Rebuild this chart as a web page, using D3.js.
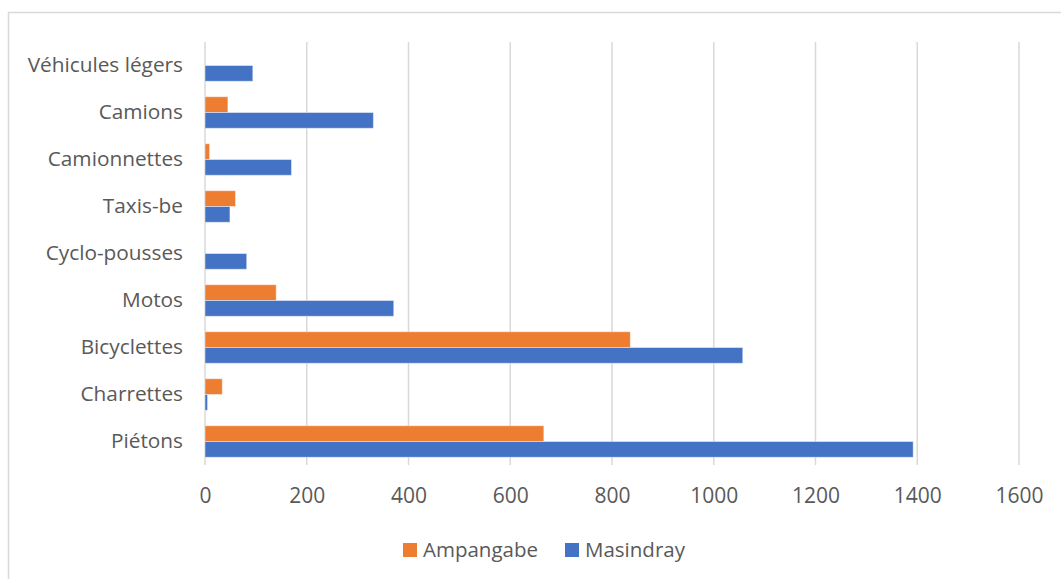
<!DOCTYPE html>
<html>
<head>
<meta charset="utf-8">
<script src="https://cdn.jsdelivr.net/npm/d3@7"></script>
<style>
  html, body { margin: 0; padding: 0; background: #fff; }
  svg { display: block; }
  text { font-family: "Open Sans", "Liberation Sans", sans-serif; fill: #595959; }
</style>
</head>
<body>
<svg id="chart" width="1061" height="579"></svg>
<script>
// Traffic counts by vehicle type at two survey sites
const categories = ["Véhicules légers", "Camions", "Camionnettes", "Taxis-be", "Cyclo-pousses", "Motos", "Bicyclettes", "Charrettes", "Piétons"];
const seriesNames = ["Ampangabe", "Masindray"];
const ampangabe = [0, 45, 9, 60, 0, 140, 836, 34, 666];
const masindray = [94, 331, 170, 49, 82, 371, 1057, 5, 1392];
const xTicks = [0, 200, 400, 600, 800, 1000, 1200, 1400, 1600];
const colors = ["#ED7D31", "#4472C4"];

const svg = d3.select("#chart");
const W = 1061, H = 579;
const plot = { left: 205, right: 1019, top: 42, bottom: 465 };

// outer chart frame
svg.append("rect")
  .attr("x", 8.5).attr("y", 12.5)
  .attr("width", W + 10).attr("height", H + 10)
  .attr("fill", "none").attr("stroke", "#D9D9D9").attr("stroke-width", 1.5);

const x = d3.scaleLinear().domain([0, 1600]).range([plot.left, plot.right]);
const y = d3.scaleBand().domain(categories).range([plot.top, plot.bottom]).paddingInner(0).paddingOuter(0);
const inner = d3.scaleBand().domain(seriesNames).range([0, y.bandwidth()]).paddingInner(0).paddingOuter(0.49);

// vertical gridlines
svg.append("g").selectAll("line").data(xTicks).join("line")
  .attr("x1", d => x(d)).attr("x2", d => x(d))
  .attr("y1", plot.top).attr("y2", plot.bottom)
  .attr("stroke", "#D9D9D9").attr("stroke-width", 1.5);

// x axis labels
const xAxis = d3.axisBottom(x).tickValues(xTicks).tickSize(0).tickPadding(0).tickFormat(d3.format("d"));
const gx = svg.append("g").attr("transform", `translate(0,${plot.bottom + 24})`).call(xAxis);
gx.select(".domain").remove();
gx.selectAll("text").attr("font-size", 21).attr("fill", "#595959")
  .attr("font-family", "'Open Sans', 'Liberation Sans', sans-serif").attr("dy", "0.66em");

// category labels
const yAxis = d3.axisLeft(y).tickSize(0).tickPadding(22);
const gy = svg.append("g").attr("transform", `translate(${plot.left},0)`).call(yAxis);
gy.select(".domain").remove();
gy.selectAll("text").attr("font-size", 20.8).attr("fill", "#595959")
  .attr("font-family", "'Open Sans', 'Liberation Sans', sans-serif");

// bars
const rows = categories.map((c, i) => ({ cat: c, values: [ampangabe[i], masindray[i]] }));
const groups = svg.append("g").selectAll("g").data(rows).join("g")
  .attr("transform", d => `translate(0,${y(d.cat)})`);
groups.selectAll("rect")
  .data(d => d.values.map((v, k) => ({ series: seriesNames[k], value: v, k })))
  .join("rect")
  .filter(d => d.value > 0)
  .attr("x", x(0))
  .attr("y", d => inner(d.series))
  .attr("width", d => x(d.value) - x(0))
  .attr("height", inner.bandwidth())
  .attr("fill", d => colors[d.k])
  .attr("stroke", "rgba(255,255,255,0.45)")
  .attr("stroke-width", 1);

// legend
const legendItems = [
  { name: seriesNames[0], color: colors[0], x: 403 },
  { name: seriesNames[1], color: colors[1], x: 565 }
];
const lg = svg.append("g");
legendItems.forEach(it => {
  lg.append("rect").attr("x", it.x).attr("y", 543).attr("width", 14).attr("height", 14).attr("fill", it.color);
  lg.append("text").attr("x", it.x + 20).attr("y", 550).attr("dy", "0.35em")
    .attr("font-size", 20.5).text(it.name);
});
</script>
</body>
</html>
